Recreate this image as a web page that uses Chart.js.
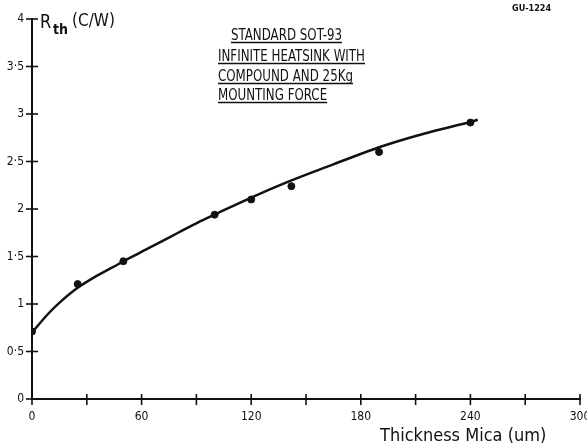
<!DOCTYPE html>
<html>
<head>
<meta charset="utf-8">
<script src="https://cdn.jsdelivr.net/npm/chart.js@4"></script>
<style>
  html, body { margin: 0; padding: 0; background: #fff; }
  #wrap { width: 587px; height: 444px; }
</style>
</head>
<body>
<div id="wrap"><canvas id="chart" width="587" height="444"></canvas></div>
<script>
// measured points (Thickness mica in um, Rth in C/W)
const pointX = [0, 25, 50, 100, 120, 142, 190, 240];
const pointY = [0.71, 1.21, 1.45, 1.94, 2.10, 2.24, 2.60, 2.91];
// fitted curve
const curveX = [0, 9, 16, 25, 34, 44, 53, 62, 71, 80, 91, 101, 120, 140, 158, 165, 190, 214, 240, 244];
const curveY = [0.70, 0.90, 1.03, 1.17, 1.28, 1.385, 1.48, 1.57, 1.66, 1.75, 1.86, 1.95, 2.12, 2.285, 2.42, 2.47, 2.65, 2.79, 2.915, 2.94];
const xLabelled = [0, 60, 120, 180, 240, 300];
const titleLines = ["STANDARD SOT-93", "INFINITE HEATSINK WITH", "COMPOUND AND 25Kg", "MOUNTING FORCE"];

const FONT = "'DejaVu Sans Condensed', 'DejaVu Sans', sans-serif";

// draw narrow text by squeezing horizontally
function narrowText(ctx, s, x, y, sx) {
    ctx.save();
    ctx.translate(x, y);
    ctx.scale(sx, 1);
    ctx.fillText(s, 0, 0);
    const w = ctx.measureText(s).width * sx;
    ctx.restore();
    return w;
}

const extras = {
    id: 'extras',
    afterDraw(chart) {
        const ctx = chart.ctx;
        const xs = chart.scales.x, ys = chart.scales.y;
        const x0 = xs.getPixelForValue(0), y0 = ys.getPixelForValue(0);
        ctx.save();
        ctx.strokeStyle = '#111';
        ctx.lineWidth = 1.6;
        // tick marks crossing the axes
        ys.ticks.forEach(t => {
            const p = ys.getPixelForValue(t.value);
            ctx.beginPath(); ctx.moveTo(x0 - 6, p); ctx.lineTo(x0 + 6, p); ctx.stroke();
        });
        xs.ticks.forEach(t => {
            const p = xs.getPixelForValue(t.value);
            ctx.beginPath(); ctx.moveTo(p, y0 - 5); ctx.lineTo(p, y0 + 6); ctx.stroke();
        });
        ctx.fillStyle = '#111';
        ctx.textBaseline = 'alphabetic';
        ctx.textAlign = 'left';
        // y axis label R_th (C/W)
        ctx.font = '20px ' + FONT;
        narrowText(ctx, 'R', 40, 28, 0.9);
        ctx.font = 'bold 14px ' + FONT;
        narrowText(ctx, 'th', 53, 34, 1.0);
        ctx.font = '17px ' + FONT;
        narrowText(ctx, '(C/W)', 72, 26, 1.0);
        // x axis label
        ctx.font = '18px ' + FONT;
        ctx.fillText('Thickness Mica (um)', 380, 441);
        // figure code
        ctx.font = 'bold 9px ' + FONT;
        ctx.fillText('GU-1224', 512, 11);
        // title, underlined
        ctx.font = '16.5px ' + FONT;
        const sx = 147 / ctx.measureText(titleLines[1]).width;
        const lefts = [231, 218, 218, 218];
        const bases = [40, 61, 81, 100];
        titleLines.forEach((s, i) => {
            const w = narrowText(ctx, s, lefts[i], bases[i], sx);
            ctx.lineWidth = 1.5;
            ctx.beginPath(); ctx.moveTo(lefts[i], bases[i] + 2.5); ctx.lineTo(lefts[i] + w, bases[i] + 2.5); ctx.stroke();
        });
        ctx.restore();
    }
};

new Chart(document.getElementById('chart'), {
    type: 'scatter',
    data: {
        datasets: [
            {
                data: curveX.map((x, i) => ({x: x, y: curveY[i]})),
                showLine: true,
                borderColor: '#111',
                borderWidth: 2.5,
                pointRadius: 0,
                tension: 0.3
            },
            {
                data: pointX.map((x, i) => ({x: x, y: pointY[i]})),
                showLine: false,
                pointRadius: 3.5,
                backgroundColor: '#111',
                borderColor: '#111'
            }
        ]
    },
    plugins: [extras],
    options: {
        responsive: false,
        animation: false,
        layout: {padding: {top: 19, right: 7, left: 0, bottom: 0}},
        plugins: {legend: {display: false}, tooltip: {enabled: false}},
        scales: {
            x: {
                type: 'linear',
                min: 0, max: 300,
                border: {display: true, color: '#111', width: 2},
                grid: {display: false, drawTicks: false},
                ticks: {
                    stepSize: 30,
                    padding: 11,
                    color: '#111',
                    font: {family: FONT, size: 12},
                    maxRotation: 0,
                    autoSkip: false,
                    callback: v => xLabelled.includes(v) ? String(v) : ''
                },
                afterFit: s => { s.height = 45; s.paddingLeft = 0; s.paddingRight = 0; }
            },
            y: {
                min: 0, max: 4,
                border: {display: true, color: '#111', width: 2},
                grid: {display: false, drawTicks: false},
                ticks: {
                    stepSize: 0.5,
                    padding: 8,
                    color: '#111',
                    font: {family: FONT, size: 12},
                    callback: v => String(v).replace('.', '·')
                },
                afterFit: s => { s.width = 32; s.paddingTop = 0; s.paddingBottom = 0; }
            }
        }
    }
});
</script>
</body>
</html>
